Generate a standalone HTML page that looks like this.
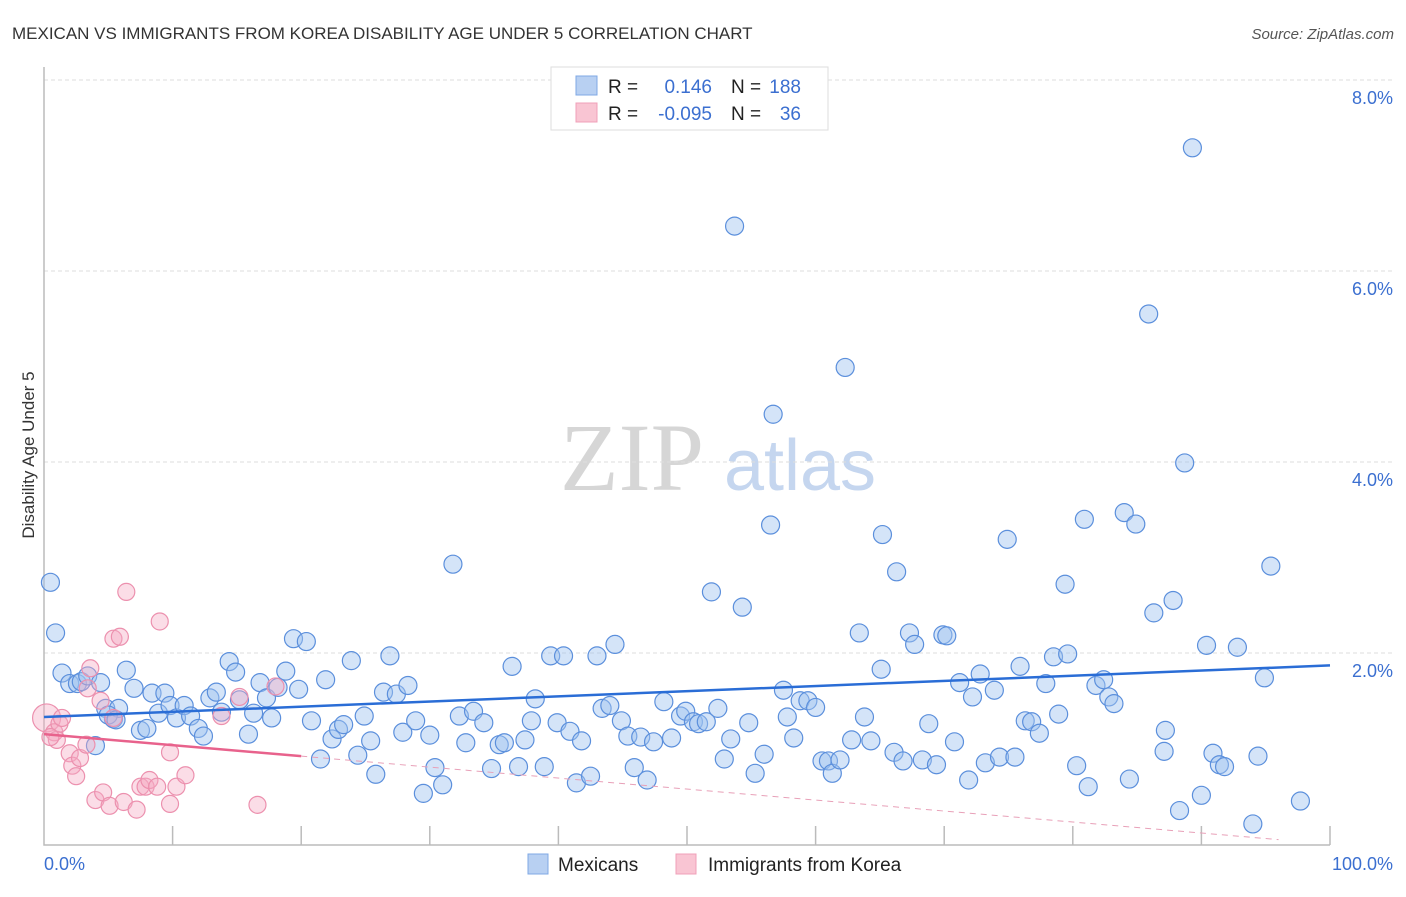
<!DOCTYPE html>
<html><head><meta charset="utf-8"><style>
body{margin:0;background:#fff;font-family:"Liberation Sans",sans-serif;}
svg text{font-family:"Liberation Sans",sans-serif;}
</style></head><body>
<svg id="chart" width="1406" height="892" xmlns="http://www.w3.org/2000/svg">
<text x="12" y="39" font-size="17" fill="#333">MEXICAN VS IMMIGRANTS FROM KOREA DISABILITY AGE UNDER 5 CORRELATION CHART</text>
<text x="1394" y="39" font-size="15" fill="#555" font-style="italic" text-anchor="end">Source: ZipAtlas.com</text>
<g>
<text x="632" y="490" font-size="96" fill="#d6d6d6" font-family="Liberation Serif" text-anchor="middle" style="font-family:'Liberation Serif',serif">ZIP</text>
<text x="800" y="490" font-size="72" fill="#c5d6ef" text-anchor="middle">atlas</text>
</g>
<g id="grid"></g>
<g id="axes"></g>
<g id="pts"></g>
<g id="lines"></g>
<text transform="translate(34,455) rotate(-90)" font-size="17" fill="#333" text-anchor="middle">Disability Age Under 5</text>
<text x="44" y="870" font-size="18" fill="#3b6fd0">0.0%</text>
<text x="1393" y="870" font-size="18" fill="#3b6fd0" text-anchor="end">100.0%</text>
<g>
<rect x="551" y="67" width="277" height="63" fill="#fff" stroke="#ddd"/>
<rect x="576" y="76" width="21" height="19" fill="#b8d0f2" stroke="#7fa8e4"/>
<rect x="576" y="103" width="21" height="19" fill="#f9c5d3" stroke="#f0a0b8"/>
<text x="608" y="93" font-size="19" fill="#222">R = </text><text x="712" y="93" font-size="19" fill="#3b6fd0" text-anchor="end">0.146</text>
<text x="731" y="93" font-size="19" fill="#222">N = </text><text x="801" y="93" font-size="19" fill="#3b6fd0" text-anchor="end">188</text>
<text x="608" y="120" font-size="19" fill="#222">R = </text><text x="712" y="120" font-size="19" fill="#3b6fd0" text-anchor="end">-0.095</text>
<text x="731" y="120" font-size="19" fill="#222">N = </text><text x="801" y="120" font-size="19" fill="#3b6fd0" text-anchor="end">36</text>
</g>
<g>
<rect x="528" y="854" width="20" height="20" fill="#b8d0f2" stroke="#7fa8e4"/>
<text x="558" y="871" font-size="19" fill="#222">Mexicans</text>
<rect x="676" y="854" width="20" height="20" fill="#f9c5d3" stroke="#f0a0b8"/>
<text x="708" y="871" font-size="19" fill="#222">Immigrants from Korea</text>
</g>
</svg>
<script>
const yTicks=[2,4,6,8];
const mexX=[0.5,0.9,1.4,2.0,2.6,2.9,3.4,4.0,4.4,4.8,5.4,5.8,6.4,7.0,7.5,8.0,8.4,8.9,9.4,9.8,10.3,10.9,11.4,12.0,12.4,12.9,13.4,13.8,14.4,14.9,15.2,15.9,16.3,16.8,17.3,17.7,18.2,18.8,19.4,19.8,20.4,20.8,21.5,21.9,22.4,22.9,23.3,23.9,24.4,24.9,25.4,25.8,26.4,26.9,27.4,27.9,28.3,28.9,29.5,30.0,30.4,31.0,31.8,32.3,32.8,33.4,34.2,34.8,35.4,35.8,36.4,36.9,37.4,37.9,38.2,38.9,39.4,39.9,40.4,40.9,41.4,41.8,42.5,43.0,43.4,44.0,44.4,44.9,45.4,45.9,46.4,46.9,47.4,48.2,48.8,49.5,49.9,50.5,50.9,51.5,51.9,52.4,52.9,53.4,53.7,54.3,54.8,55.3,56.0,56.5,56.7,57.5,57.8,58.3,58.8,59.4,60.0,60.5,61.0,61.3,61.9,62.3,62.8,63.4,63.8,64.3,65.1,65.2,66.1,66.3,66.8,67.3,67.7,68.3,68.8,69.4,69.9,70.2,70.8,71.2,71.9,72.2,72.8,73.2,73.9,74.3,74.9,75.5,75.9,76.3,76.8,77.4,77.9,78.5,78.9,79.4,79.6,80.3,80.9,81.2,81.8,82.4,82.8,83.2,84.0,84.4,84.9,85.9,86.3,87.1,87.2,87.8,88.3,88.7,89.3,90.0,90.4,90.9,91.4,91.8,92.8,94.0,94.4,94.9,95.4,97.7,5.0,5.6];
const mexY=[2.74,2.21,1.79,1.68,1.68,1.70,1.76,1.03,1.69,1.42,1.31,1.42,1.82,1.63,1.19,1.21,1.58,1.37,1.58,1.45,1.32,1.45,1.34,1.21,1.13,1.53,1.59,1.38,1.91,1.80,1.51,1.15,1.37,1.69,1.53,1.32,1.64,1.81,2.15,1.62,2.12,1.29,0.89,1.72,1.10,1.20,1.25,1.92,0.93,1.34,1.08,0.73,1.59,1.97,1.57,1.17,1.66,1.29,0.53,1.14,0.80,0.62,2.93,1.34,1.06,1.39,1.27,0.79,1.04,1.06,1.86,0.81,1.09,1.29,1.52,0.81,1.97,1.27,1.97,1.18,0.64,1.08,0.71,1.97,1.42,1.45,2.09,1.29,1.13,0.80,1.12,0.67,1.07,1.49,1.11,1.34,1.39,1.28,1.26,1.28,2.64,1.42,0.89,1.10,6.47,2.48,1.27,0.74,0.94,3.34,4.50,1.61,1.33,1.11,1.50,1.50,1.43,0.87,0.87,0.74,0.88,4.99,1.09,2.21,1.33,1.08,1.83,3.24,0.96,2.85,0.87,2.21,2.09,0.88,1.26,0.83,2.19,2.18,1.07,1.69,0.67,1.54,1.78,0.85,1.61,0.91,3.19,0.91,1.86,1.29,1.28,1.16,1.68,1.96,1.36,2.72,1.99,0.82,3.40,0.60,1.66,1.72,1.54,1.47,3.47,0.68,3.35,5.55,2.42,0.97,1.19,2.55,0.35,3.99,7.29,0.51,2.08,0.95,0.83,0.81,2.06,0.21,0.92,1.74,2.91,0.45,1.35,1.30];
const korX=[0.2,0.8,1.0,1.2,1.4,2.0,2.2,2.5,2.8,3.3,3.4,3.6,4.0,4.4,4.6,5.1,5.4,5.4,5.9,6.2,6.4,7.2,7.5,7.9,8.2,8.8,9.0,9.8,9.8,10.3,11.0,13.8,15.2,16.6,18.0,0.5];
const korY=[1.32,1.17,1.09,1.26,1.32,0.95,0.82,0.71,0.90,1.04,1.63,1.84,0.46,1.50,0.54,0.40,2.15,1.32,2.17,0.44,2.64,0.36,0.60,0.60,0.67,0.60,2.33,0.96,0.42,0.60,0.72,1.34,1.54,0.41,1.65,1.12];
const mexTrend=[1.33,1.87];
const korTrend=[1.15,0.0];
const korSolidEnd=20;
const X0=44,X1=1330,Y0=844,PPU=95.5;
const sx=v=>X0+(X1-X0)*v/100;
const sy=v=>Y0-v*PPU;
const NS='http://www.w3.org/2000/svg';
function mk(tag,attrs,parent){const e=document.createElementNS(NS,tag);for(const k in attrs)e.setAttribute(k,attrs[k]);parent.appendChild(e);return e;}
const grid=document.getElementById('grid'),axes=document.getElementById('axes'),pts=document.getElementById('pts'),lines=document.getElementById('lines');
yTicks.forEach(t=>{
 const l=mk('line',{x1:44,x2:1393,y1:sy(t),y2:sy(t),stroke:'#ddd','stroke-dasharray':'4,3'},grid);
 
 
 const tx=mk('text',{x:1393,y:sy(t)+24,'font-size':18,fill:'#3b6fd0','text-anchor':'end'},grid);
 tx.textContent=t.toFixed(1)+'%';
 
 
});
const ax=mk('path',{d:'M44 67 V845 H1330',fill:'none',stroke:'#bbb','stroke-width':1.5},axes);


for(let i=1;i<=10;i++){
 const tk=mk('line',{x1:sx(i*10),x2:sx(i*10),y1:826,y2:845,stroke:'#bbb','stroke-width':1.5},axes);
 
 
}
mexX.forEach((x,i)=>{
 const c=mk('circle',{cx:sx(x),cy:sy(mexY[i]),r:9,fill:'rgba(160,195,240,0.45)',stroke:'#5b8fdc','stroke-width':1.2},pts);
 
 
});
korX.forEach((x,i)=>{
 const c=mk('circle',{cx:sx(x),cy:sy(korY[i]),r:i==0?14:8.5,fill:'rgba(245,170,195,0.4)',stroke:'#ec90ae','stroke-width':1.2},pts);
 
 
});
const bl=mk('line',{x1:sx(0),y1:sy(mexTrend[0]),x2:sx(100),y2:sy(mexTrend[1]),stroke:'#2a6dd6','stroke-width':2.5},lines);


const kAt=x=>korTrend[0]+(korTrend[1]-korTrend[0])*x/100;
const pl=mk('line',{x1:sx(0),y1:sy(kAt(0)),x2:sx(korSolidEnd),y2:sy(kAt(korSolidEnd)),stroke:'#e8628c','stroke-width':2.5},lines);


const pd=mk('line',{x1:sx(korSolidEnd),y1:sy(kAt(korSolidEnd)),x2:sx(96),y2:sy(kAt(96)),stroke:'#e8a0b8','stroke-width':1,'stroke-dasharray':'6,5'},lines);


</script>
</body></html>
